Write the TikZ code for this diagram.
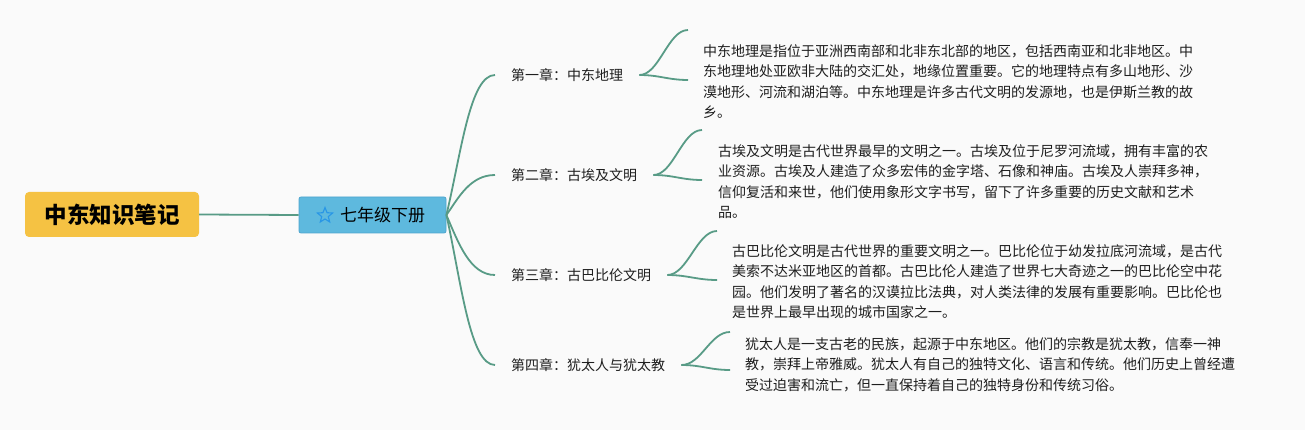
\documentclass[tikz,border=0pt]{standalone}
\usepackage{fontspec}
\setmainfont{Noto Sans CJK SC}
\usetikzlibrary{shapes.geometric,calc}
\definecolor{bg}{RGB}{250,250,250}
\definecolor{rootc}{RGB}{245,194,67}
\definecolor{bluec}{RGB}{94,185,222}
\definecolor{blueb}{RGB}{78,165,205}
\definecolor{linec}{RGB}{88,155,134}
\definecolor{starc}{RGB}{40,150,230}
\definecolor{txt}{RGB}{30,30,30}
\tikzset{
  rootbox/.style={fill=rootc, rounded corners=4pt, minimum width=174pt, minimum height=45pt, inner sep=0pt,
    font=\fontsize{22.5}{24}\selectfont\bfseries, text=black},
  bluebox/.style={fill=bluec, draw=blueb, line width=0.8pt, rounded corners=2pt, minimum width=147pt, minimum height=36pt, inner sep=0pt},
  seclabel/.style={font=\fontsize{17}{18}\selectfont, text=black, inner sep=0pt},
  starnode/.style={star, star points=5, star point ratio=2.3, minimum size=16pt, inner sep=0pt, draw=starc, line width=1.1pt},
  chap/.style={font=\fontsize{14}{16}\selectfont, text=txt, inner xsep=16pt, inner ysep=2pt},
  leaf/.style={font=\fontsize{14}{20.4}\selectfont, text=txt, inner sep=0pt, align=left},
  conn/.style={draw=linec, line width=1.8pt},
}
\begin{document}
\begin{tikzpicture}[x=1pt,y=-1pt]
\fill[bg] (0,0) rectangle (1305,430);
\useasboundingbox (0,0) rectangle (1305,430);

\node[rootbox] (root) at (112,214.5) {中东知识笔记};
\node[bluebox] (sec) at (372.5,215) {};
\node[starnode] (star) at (325,215.5) {};
\node[seclabel, anchor=west] (seclab) at (340,215) {七年级下册};

\draw[conn] (root.east) -- (sec.west);

\node[chap, anchor=west] (c1) at (495,75) {第一章：中东地理};
\node[chap, anchor=west] (c2) at (495,175) {第二章：古埃及文明};
\node[chap, anchor=west] (c3) at (495,275) {第三章：古巴比伦文明};
\node[chap, anchor=west] (c4) at (495,365) {第四章：犹太人与犹太教};

\draw[conn] (sec.east) .. controls +(15,-63) and +(-25,0) .. (c1.west);
\draw[conn] (sec.east) .. controls +(12,-17) and +(-25,0) .. (c2.west);
\draw[conn] (sec.east) .. controls +(12,28) and +(-25,0) .. (c3.west);
\draw[conn] (sec.east) .. controls +(15,68) and +(-25,0) .. (c4.west);

\node[leaf, anchor=west] (t1) at (703,81.5) {中东地理是指位于亚洲西南部和北非东北部的地区，包括西南亚和北非地区。中\\东地理地处亚欧非大陆的交汇处，地缘位置重要。它的地理特点有多山地形、沙\\漠地形、河流和湖泊等。中东地理是许多古代文明的发源地，也是伊斯兰教的故\\乡。};
\node[leaf, anchor=west] (t2) at (718,181.5) {古埃及文明是古代世界最早的文明之一。古埃及位于尼罗河流域，拥有丰富的农\\业资源。古埃及人建造了众多宏伟的金字塔、石像和神庙。古埃及人崇拜多神，\\信仰复活和来世，他们使用象形文字书写，留下了许多重要的历史文献和艺术\\品。};
\node[leaf, anchor=west] (t3) at (732,281.5) {古巴比伦文明是古代世界的重要文明之一。巴比伦位于幼发拉底河流域，是古代\\美索不达米亚地区的首都。古巴比伦人建造了世界七大奇迹之一的巴比伦空中花\\园。他们发明了著名的汉谟拉比法典，对人类法律的发展有重要影响。巴比伦也\\是世界上最早出现的城市国家之一。};
\node[leaf, anchor=west] (t4) at (745,364.5) {犹太人是一支古老的民族，起源于中东地区。他们的宗教是犹太教，信奉一神\\教，崇拜上帝雅威。犹太人有自己的独特文化、语言和传统。他们历史上曾经遭\\受过迫害和流亡，但一直保持着自己的独特身份和传统习俗。};

\coordinate (u1) at (688,30);  \coordinate (l1) at (688,80);
\coordinate (u2) at (702,130); \coordinate (l2) at (702,180);
\coordinate (u3) at (717,231); \coordinate (l3) at (717,280);
\coordinate (u4) at (730,332); \coordinate (l4) at (730,370);

\foreach \i in {1,2,3,4}{
  \draw[conn] (c\i.east) .. controls +(20,0) and +(-20,0) .. (u\i);
  \draw[conn] (c\i.east) .. controls +(20,0) and +(-20,0) .. (l\i);
}
\end{tikzpicture}
\end{document}
